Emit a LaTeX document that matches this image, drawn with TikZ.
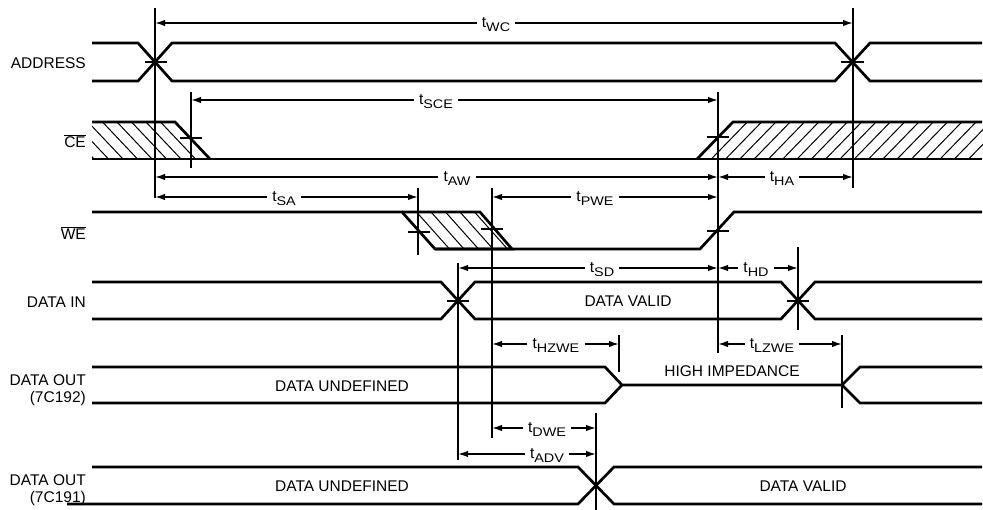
\documentclass[tikz,border=0pt]{standalone}
\usepackage{fontspec}
\setmainfont{Liberation Sans}
\usetikzlibrary{arrows.meta}
\newcommand{\tsb}[1]{t\raisebox{-4pt}{\scalebox{1.15}[1]{\fontsize{12.5}{12.5}\selectfont #1}}}
\newcommand{\mkdim}[6]{%
  \coordinate (#1a) at (#2,#4);
  \coordinate (#1b) at (#3,#4);
  \node[tl] (#1) at (#5,#4+5) {\tsb{#6}};
  \draw[dimln] (#1a -| #1.west) -- (#1a);
  \draw[dimln] (#1b -| #1.east) -- (#1b);
}
\begin{document}
\begin{tikzpicture}[x=1pt,y=-1pt,
  sig/.style={line width=2.7pt, line join=miter},
  vln/.style={line width=1.1pt},
  dimln/.style={line width=1.6pt, -{Latex[length=10pt,width=6.5pt]}},
  tck/.style={line width=1.5pt},
  htc/.style={line width=1pt},
  lbl/.style={font=\fontsize{15.5}{17}\selectfont, inner sep=0pt},
  tl/.style={font=\fontsize{15.5}{17}\selectfont, inner xsep=5pt, inner ysep=0pt, anchor=base}]
\useasboundingbox[fill=white] (0,0) rectangle (983,510);

% ---------- signal labels ----------
\node[lbl, anchor=east] (lAddr) at (86,63) {ADDRESS};
\node[lbl, anchor=east] (lCE) at (86,141) {$\overline{\mbox{CE}}$};
\node[lbl, anchor=east] (lWE) at (86,233) {$\overline{\mbox{WE}}$};
\node[lbl, anchor=east] (lDin) at (86,302) {DATA IN};
\node[lbl, anchor=east, align=right] (lDo2) at (86,390) {DATA OUT\\(7C192)};
\node[lbl, anchor=east, align=right] (lDo1) at (86,490) {DATA OUT\\(7C191)};

% ---------- hatching ----------
\begin{scope}
  \clip (92,122) -- (175,122) -- (210,159) -- (92,159) -- cycle;
  \foreach \i in {1,...,12} \draw[htc] (175-\i*14.5,122) -- ++(35,37);
\end{scope}
\begin{scope}
  \clip (697,159) -- (733,122) -- (983,122) -- (983,159) -- cycle;
  \foreach \i in {1,...,20} \draw[htc] (697+\i*14.3,159) -- ++(36,-37);
\end{scope}
\begin{scope}
  \clip (402,212) -- (480,212) -- (512,249) -- (435,249) -- cycle;
  \foreach \i in {1,...,5} \draw[htc] (402+\i*14.5,212) -- ++(33,37);
\end{scope}

% ---------- signals ----------
% ADDRESS
\draw[sig] (92,43) -- (138,43) -- (172,81) -- (835,81) -- (870,43) -- (982,43);
\draw[sig] (92,81) -- (138,81) -- (172,43) -- (835,43) -- (870,81) -- (982,81);
% CE
\draw[sig] (92,122) -- (175,122) -- (210,159);
\draw[sig] (92,159) -- (982,159);
\draw[sig] (697,159) -- (733,122) -- (982,122);
% WE
\draw[sig] (92,212) -- (402,212) -- (435,249) -- (700,249) -- (734,212) -- (982,212);
\draw[sig] (402,212) -- (480,212) -- (512,249) -- (435,249);
% DATA IN
\draw[sig] (92,282) -- (441,282) -- (475,319) -- (781,319) -- (815,282) -- (982,282);
\draw[sig] (92,319) -- (441,319) -- (475,282) -- (781,282) -- (815,319) -- (982,319);
% DATA OUT 7C192
\draw[sig] (92,367) -- (605,367) -- (622,385) -- (842,385) -- (860,367) -- (982,367);
\draw[sig] (92,403) -- (605,403) -- (622,385);
\draw[sig] (842,385) -- (860,403) -- (982,403);
% DATA OUT 7C191
\draw[sig] (92,467) -- (578,467) -- (614,504) -- (982,504);
\draw[sig] (67,504) -- (578,504) -- (614,467) -- (982,467);

% ---------- texts in signals ----------
\node[lbl] (tDV1) at (628,301) {DATA VALID};
\node[lbl] (tDU2) at (342,386) {DATA UNDEFINED};
\node[lbl] (tHI) at (732,371) {HIGH IMPEDANCE};
\node[lbl] (tDU1) at (342,486) {DATA UNDEFINED};
\node[lbl] (tDV2) at (803,486) {DATA VALID};

% ---------- vertical reference lines ----------
\draw[vln] (155,8) -- (155,198);
\draw[vln] (853,8) -- (853,188);
\draw[vln] (191,92) -- (191,168);
\draw[vln] (718,92) -- (718,353);
\draw[vln] (418,188) -- (418,255);
\draw[vln] (492,188) -- (492,438);
\draw[vln] (458,263) -- (458,460);
\draw[vln] (798,247) -- (798,330);
\draw[vln] (619,335) -- (619,372);
\draw[vln] (842,335) -- (842,408);
\draw[vln] (596,413) -- (596,510);

% ---------- ticks ----------
\draw[tck] (145,62) -- (167,62);
\draw[tck] (841,62) -- (864,62);
\draw[tck] (180,138) -- (202,138);
\draw[tck] (707,137) -- (729,137);
\draw[tck] (408,232) -- (430,232);
\draw[tck] (481,229) -- (503,229);
\draw[tck] (707,231) -- (729,231);
\draw[tck] (447,301) -- (469,301);
\draw[tck] (787,301) -- (809,301);

% ---------- dimensions ----------
\mkdim{WC}{155}{853}{23}{496}{WC}
\mkdim{SCE}{191}{718}{100}{436}{SCE}
\mkdim{AW}{155}{718}{177}{457}{AW}
\mkdim{HA}{718}{853}{177}{782}{HA}
\mkdim{SA}{155}{418}{197}{284}{SA}
\mkdim{PWE}{492}{718}{197}{595}{PWE}
\mkdim{SD}{458}{718}{268}{602}{SD}
\mkdim{HD}{718}{798}{268}{756}{HD}
\mkdim{HZWE}{492}{619}{344}{556}{HZWE}
\mkdim{LZWE}{718}{842}{344}{772}{LZWE}
\mkdim{DWE}{492}{596}{428}{547}{DWE}
\mkdim{ADV}{458}{596}{454}{547}{ADV}
\end{tikzpicture}
\end{document}
